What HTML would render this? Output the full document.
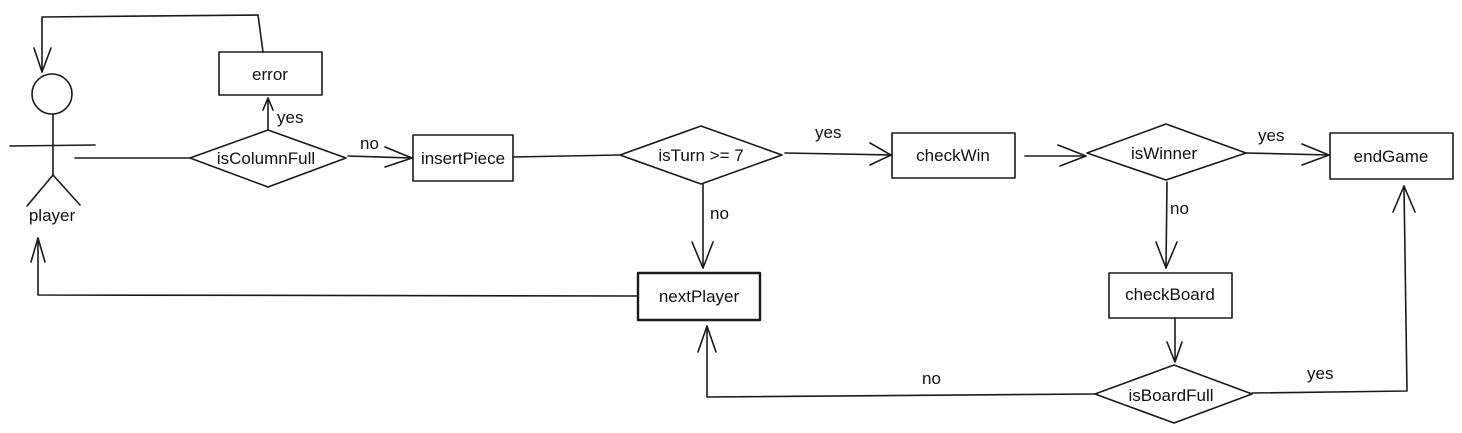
<!DOCTYPE html>
<html><head><meta charset="utf-8"><style>
html,body{margin:0;padding:0;background:#fff;width:1462px;height:433px;overflow:hidden}
svg text{font-family:"Liberation Sans",sans-serif;font-size:17px;fill:#111}
</style></head><body>
<svg width="1462" height="433" viewBox="0 0 1462 433" xmlns="http://www.w3.org/2000/svg">
<g fill="none" stroke="#1a1a1a" stroke-width="1.6" stroke-linecap="round" stroke-linejoin="round">
<!-- player -->
<circle cx="52" cy="94" r="20"/>
<line x1="53" y1="114" x2="53" y2="175"/>
<line x1="10" y1="146" x2="95" y2="145"/>
<line x1="53" y1="175" x2="27" y2="206"/>
<line x1="53" y1="175" x2="80" y2="205"/>
<!-- top loop -->
<polyline points="263,52 258,15 42,17 42,72"/>
<polyline points="34,48 42,72 51,48"/>
<!-- boxes -->
<rect x="219" y="52" width="103" height="43"/>
<rect x="413" y="135" width="100" height="46"/>
<rect x="892" y="133" width="123" height="45"/>
<rect x="1330" y="133" width="123" height="46"/>
<rect x="638" y="273" width="122" height="47" stroke-width="2.4"/>
<rect x="1109" y="273" width="123" height="45"/>
<!-- diamonds -->
<polygon points="190,158 268,130 346,158 268,187"/>
<polygon points="620,155 701,126 782,155 701,184"/>
<polygon points="1087,153 1166,124 1246,153 1166,180"/>
<polygon points="1095,394 1174,365 1252,394 1174,423"/>
<!-- connectors -->
<line x1="75" y1="158" x2="190" y2="158"/>
<line x1="268" y1="130" x2="268" y2="98"/><polyline points="263,110 268,98 273,110"/>
<line x1="348" y1="156" x2="412" y2="158"/><polyline points="385,147 412,158 385,167"/>
<line x1="513" y1="157" x2="620" y2="155"/>
<line x1="785" y1="153" x2="891" y2="155"/><polyline points="870,143 891,155 870,165"/>
<line x1="703" y1="184" x2="703" y2="268"/><polyline points="692,242 703,268 713,242"/>
<line x1="1025" y1="156" x2="1086" y2="156"/><polyline points="1058,145 1086,156 1060,166"/>
<line x1="1246" y1="153" x2="1329" y2="155"/><polyline points="1302,144 1329,155 1302,165"/>
<line x1="1167" y1="182" x2="1166" y2="268"/><polyline points="1156,242 1166,268 1177,242"/>
<line x1="1175" y1="318" x2="1175" y2="362"/><polyline points="1167,342 1175,362 1182,342"/>
<polyline points="1252,393 1407,391 1404,186"/><polyline points="1393,212 1404,186 1415,212"/>
<polyline points="1095,394 707,397 707,326"/><polyline points="698,352 707,326 716,352"/>
<polyline points="638,296 38,295 38,238"/><polyline points="31,262 38,238 45,262"/>
</g>
<g>
<text x="270" y="80" text-anchor="middle">error</text>
<text x="266" y="164" text-anchor="middle">isColumnFull</text>
<text x="463" y="164" text-anchor="middle">insertPiece</text>
<text x="701" y="161" text-anchor="middle">isTurn &gt;= 7</text>
<text x="953" y="161" text-anchor="middle">checkWin</text>
<text x="1164" y="159" text-anchor="middle">isWinner</text>
<text x="1391" y="162" text-anchor="middle">endGame</text>
<text x="699" y="302" text-anchor="middle">nextPlayer</text>
<text x="1170" y="300" text-anchor="middle">checkBoard</text>
<text x="1171" y="401" text-anchor="middle">isBoardFull</text>
<text x="52" y="221" text-anchor="middle">player</text>
<text x="277" y="123">yes</text>
<text x="360" y="149">no</text>
<text x="815" y="138">yes</text>
<text x="710" y="219">no</text>
<text x="1258" y="141">yes</text>
<text x="1170" y="214">no</text>
<text x="1307" y="379">yes</text>
<text x="922" y="384">no</text>
</g>
</svg>
</body></html>
